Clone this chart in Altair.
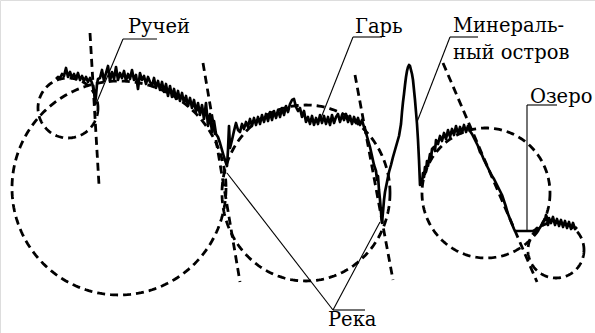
import altair as alt
import numpy as np
import pandas as pd

W, H = 595, 333

# Ground profile along the transect (x, y in drawing units, y grows downward)
prof_x = [56, 58, 60, 62, 64, 66, 68, 70, 72, 74, 76, 78, 80, 82, 84, 86, 88, 90, 92, 94,
          95, 96, 97, 98, 100, 102, 104, 106, 108, 110, 112, 114, 116, 118, 120, 122, 124,
          126, 128, 130, 132, 134, 136, 138, 140, 142, 144, 146, 148, 150,
          152, 154, 156, 158, 160, 162, 164, 166, 168, 170, 172, 174, 176, 178, 180, 182,
          184, 186, 188, 190, 192, 194, 196, 198, 200, 202, 204, 206, 208, 210, 212, 214,
          216, 218, 220, 222, 224, 226, 227,
          228, 229, 230, 232, 234, 236, 238, 240, 242, 244, 246, 248, 250, 252, 254, 256,
          258, 260, 262, 264, 266, 268, 270, 272, 274, 276, 278, 280, 282, 284, 286, 288,
          290, 292, 294, 296, 298, 300, 302, 304, 306, 308, 310, 312, 314, 316, 318, 320,
          322, 324, 326, 328, 330, 332, 334, 336, 338, 340, 342, 344, 346, 348, 350, 352,
          354, 356, 358, 360, 362, 364,
          366, 368, 370, 372, 374, 376, 377, 378, 379, 380, 381, 382,
          383, 384, 385, 387, 389, 391, 393, 395, 397, 399, 401, 402, 403, 404, 405, 406,
          407, 408, 409, 410, 411, 412, 413, 414, 415, 416, 417, 418, 419, 420,
          421, 422, 423, 424, 425, 426, 427, 428, 430, 431, 432, 434, 435, 436, 438, 440,
          442, 444, 446, 448, 450, 452, 454, 456, 458, 460, 462, 464, 466, 468, 470, 472,
          474, 476, 478, 480, 482, 484, 486, 488, 490, 492, 494, 496, 498, 500, 502, 504,
          506, 508, 510, 512, 514, 515,
          533, 535, 537, 539, 541, 543, 545, 546, 547, 548, 549, 551, 553, 555, 557, 559,
          561, 563, 565, 567, 569, 571, 573, 575, 577]
prof_y = [79, 77, 78, 74, 76, 68, 77, 72, 78, 74, 79, 73, 80, 76, 81, 77, 82, 78, 83, 90,
          104, 96, 84, 79, 78, 70, 81, 73, 66, 81, 72, 79, 67, 80, 73, 78, 71,
          81, 74, 79, 70, 80, 75, 89, 73, 80, 76, 84, 77, 82,
          86, 78, 88, 81, 90, 82, 92, 84, 96, 86, 97, 89, 99, 91, 101, 93,
          103, 96, 106, 98, 108, 100, 112, 103, 115, 105, 119, 103, 126, 114, 132, 121,
          134, 137, 143, 150, 157, 163, 166,
          150, 126, 148, 140, 131, 123, 130, 132, 124, 129, 122, 127, 119, 126, 118, 125,
          117, 124, 115, 122, 114, 121, 112, 120, 111, 118, 110, 117, 108, 115, 106, 112,
          104, 100, 99, 107, 111, 108, 117, 111, 122, 117, 124, 116, 125, 118, 124, 115,
          123, 116, 124, 117, 125, 115, 123, 117, 114, 122, 115, 120, 114, 122, 116, 124,
          117, 123, 118, 125, 120, 127,
          133, 140, 147, 156, 165, 171, 180, 176, 190, 200, 212, 223,
          212, 200, 192, 182, 172, 165, 157, 150, 143, 136, 124, 112, 102, 94, 85, 77,
          71, 67, 65, 66, 70, 74, 80, 90, 100, 112, 124, 140, 160, 185,
          180, 183, 173, 177, 167, 172, 161, 166, 154, 159, 149, 147, 151, 140, 144, 136,
          141, 133, 139, 130, 137, 129, 135, 126, 134, 127, 133, 125, 132, 126, 131, 134,
          138, 142, 146, 152, 155, 160, 164, 168, 172, 176, 179, 183, 187, 191, 195, 201,
          207, 214, 219, 224, 229, 231,
          231, 230, 228, 229, 226, 222, 220, 215, 218, 225, 218, 223, 217, 225, 219, 226,
          220, 227, 221, 228, 222, 229, 223, 229, 227]

# Construction circles: centre and radii
circ_cx = [68, 119, 306, 486, 556]
circ_cy = [108, 188, 193, 193, 250]
circ_rx = [30, 107, 84, 64, 28]
circ_ry = [30, 107, 88, 65, 28]

# Dashed tangent lines (start / end)
tan_x1 = [90, 203, 355, 443]
tan_y1 = [33, 63, 75, 63]
tan_x2 = [99, 240, 393, 537]
tan_y2 = [185, 282, 280, 282]

# Label leader lines
lead_x1 = [123, 123, 353, 353, 450, 450, 527, 527, 227, 380, 333]
lead_y1 = [39, 39, 37, 37, 37, 37, 105, 105, 173, 222, 310]
lead_x2 = [157, 96, 382, 321, 478, 417, 557, 527, 333, 333, 365]
lead_y2 = [39, 104, 37, 118, 37, 122, 105, 231, 310, 310, 310]

# Labels
lab_text = ["Ручей", "Гарь", "Минераль-", "ный остров", "Озеро", "Река"]
lab_x = [128, 355, 453, 453, 530, 328]
lab_y = [33, 33, 32, 59, 103, 326]

xs = alt.Scale(domain=[0, W], range=[0, W])
ys = alt.Scale(domain=[0, H], range=[0, H])

profile = pd.DataFrame({"x": prof_x, "y": prof_y, "i": range(len(prof_x))})

rows = []
t = np.linspace(0, 2 * np.pi, 241)
for k, (cx, cy, rx, ry) in enumerate(zip(circ_cx, circ_cy, circ_rx, circ_ry)):
    for j, a in enumerate(t):
        rows.append({"c": k, "j": j, "x": cx + rx * np.cos(a), "y": cy + ry * np.sin(a)})
circles = pd.DataFrame(rows)

tangents = pd.DataFrame({"x": tan_x1, "y": tan_y1, "x2": tan_x2, "y2": tan_y2})
leaders = pd.DataFrame({"x": lead_x1, "y": lead_y1, "x2": lead_x2, "y2": lead_y2})
labels = pd.DataFrame({"t": lab_text, "x": lab_x, "y": lab_y})

X = lambda f: alt.X(f, type="quantitative", scale=xs, axis=None)
Y = lambda f: alt.Y(f, type="quantitative", scale=ys, axis=None)

dash = [8, 5]

circle_layer = alt.Chart(circles).mark_line(
    color="black", strokeWidth=2.8, strokeDash=dash, strokeCap="butt"
).encode(x=X("x"), y=Y("y"), detail="c:N", order="j:Q")

tangent_layer = alt.Chart(tangents).mark_rule(
    color="black", strokeWidth=2.8, strokeDash=dash, strokeCap="butt"
).encode(x=X("x"), y=Y("y"), x2="x2:Q", y2="y2:Q")

leader_layer = alt.Chart(leaders).mark_rule(color="black", strokeWidth=1.1).encode(
    x=X("x"), y=Y("y"), x2="x2:Q", y2="y2:Q"
)

profile_layer = alt.Chart(profile).mark_line(
    color="black", strokeWidth=2.7, strokeJoin="round"
).encode(x=X("x"), y=Y("y"), order="i:Q")

label_layer = alt.Chart(labels).mark_text(
    font="DejaVu Serif", fontSize=19.5, align="left", baseline="alphabetic", color="black"
).encode(x=X("x"), y=Y("y"), text="t:N")

chart = (
    alt.layer(circle_layer, tangent_layer, leader_layer, profile_layer, label_layer)
    .properties(width=W, height=H, autosize=alt.AutoSizeParams(type="none"), padding=0)
    .configure_view(stroke=None)
    .configure(background="white")
)

chart.save("out.html", embed_options={"renderer": "svg", "actions": False})
